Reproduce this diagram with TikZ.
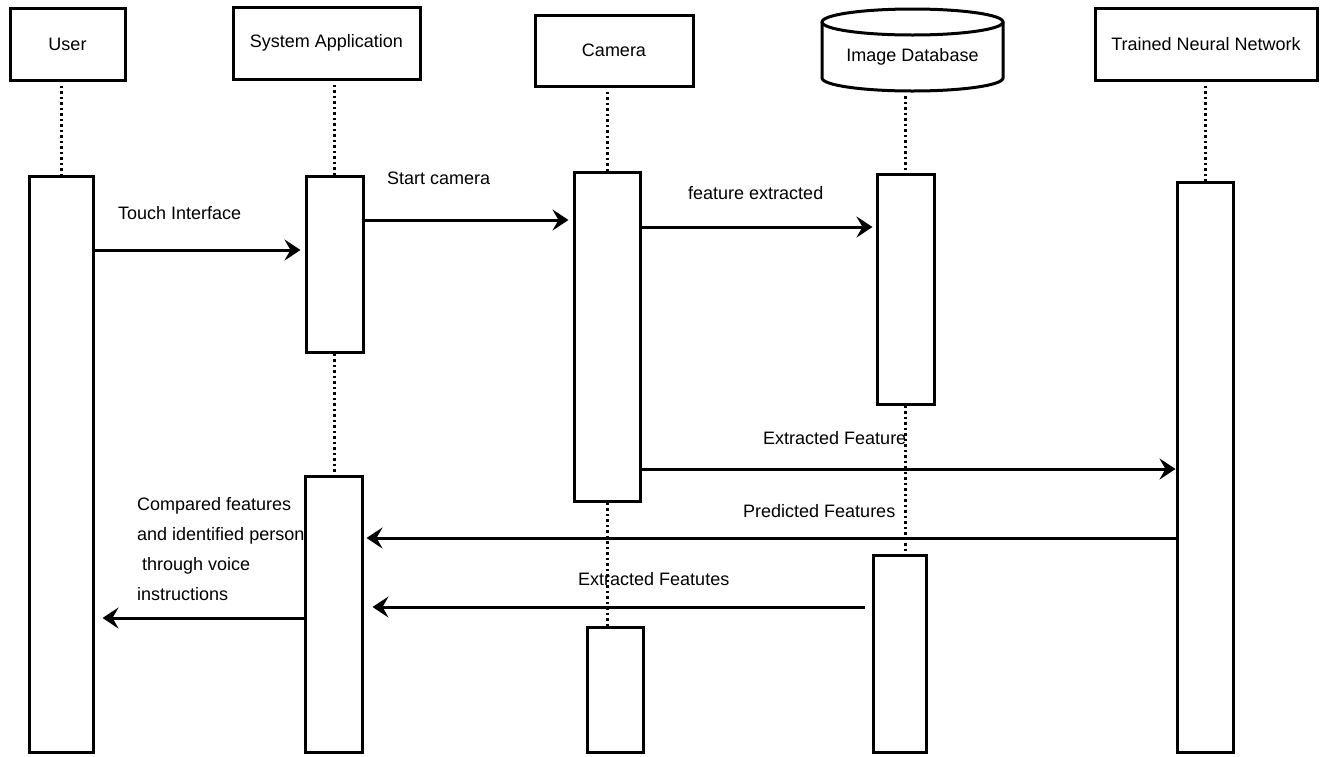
\documentclass[tikz,border=0pt]{standalone}
\usepackage{fontspec}
\setmainfont{Liberation Sans}
\usetikzlibrary{arrows.meta}
\begin{document}
\begin{tikzpicture}[x=1pt,y=-1pt,
  hdr/.style={draw, line width=3pt, fill=white, inner sep=0pt, font=\fontsize{18}{22}\selectfont},
  act/.style={draw, line width=3pt, fill=white, inner sep=0pt},
  life/.style={line width=3pt, dash pattern=on 2.5pt off 3pt},
  msg/.style={line width=3pt, -{Stealth[length=16pt,width=21pt,inset=6pt]}},
  lbl/.style={font=\fontsize{18}{30}\selectfont, inner sep=0pt, anchor=west},
]
\useasboundingbox[fill=white] (0,0) rectangle (1328,756);

% headers
\node[hdr, minimum width=115pt, minimum height=72pt] (hUser) at (67.5,44) {User};
\node[hdr, minimum width=187pt, minimum height=72pt] (hSys) at (326.5,43) {System Application};
\node[hdr, minimum width=158pt, minimum height=71pt] (hCam) at (614,50.5) {Camera};
\node[hdr, minimum width=222pt, minimum height=72pt] (hTNN) at (1206,44) {Trained Neural Network};
% database cylinder
\draw[line width=3pt, fill=white] (822,22) -- (822,78) arc[start angle=180, end angle=360, x radius=90.5pt, y radius=13pt] -- (1003,22);
\draw[line width=3pt] (912.5,22) ellipse [x radius=90.5pt, y radius=13pt];
\node[inner sep=0pt, minimum width=181pt, minimum height=84pt] (hDB) at (912.5,50) {};
\node[inner sep=0pt, font=\fontsize{18}{22}\selectfont] (hDBt) at (912.5,57) {Image Database};

% activations
\node[act, minimum width=64pt, minimum height=576pt] (aUser) at (61,464) {};
\node[act, minimum width=57pt, minimum height=176pt] (aSys1) at (334.5,264) {};
\node[act, minimum width=57pt, minimum height=276pt] (aSys2) at (333.5,614) {};
\node[act, minimum width=66pt, minimum height=329pt] (aCam1) at (607,336.5) {};
\node[act, minimum width=56pt, minimum height=125pt] (aCam2) at (615,689.5) {};
\node[act, minimum width=57pt, minimum height=230pt] (aDB1) at (905.5,289) {};
\node[act, minimum width=53pt, minimum height=197pt] (aDB2) at (899.5,653.5) {};
\node[act, minimum width=56pt, minimum height=570pt] (aTNN) at (1205,467) {};

% lifelines
\draw[life, shorten <=4pt] (hUser.south -| aUser.north) -- (aUser.north);
\draw[life, shorten <=4pt] (hSys.south -| aSys1.north) -- (aSys1.north);
\draw[life] (aSys1.south) -- (aSys1.south |- aSys2.north);
\draw[life, shorten <=4pt] (hCam.south -| aCam1.north) -- (aCam1.north);
\draw[life] (aCam1.south) -- (aCam1.south |- aCam2.north);
\draw[life, shorten <=4pt] (hDB.south -| aDB1.north) -- (aDB1.north);
\draw[life] (aDB1.south) -- (aDB1.south |- aDB2.north);
\draw[life, shorten <=4pt] (hTNN.south -| aTNN.north) -- (aTNN.north);

% messages
\draw[msg, shorten >=4pt] (aUser.east |- 0,250) -- (aSys1.west |- 0,250);
\draw[msg, shorten >=4pt] (aSys1.east |- 0,220) -- (aCam1.west |- 0,220);
\draw[msg, shorten >=3pt] (aCam1.east |- 0,227) -- (aDB1.west |- 0,227);
\draw[msg] (aCam1.east |- 0,469) -- (aTNN.west |- 0,469);
\draw[msg, shorten >=3pt] (aTNN.west |- 0,538) -- (aSys2.east |- 0,538);
\draw[msg, shorten <=7pt, shorten >=9pt] (aDB2.west |- 0,607) -- (aSys2.east |- 0,607);
\draw[msg, shorten >=8pt] (aSys2.west |- 0,618) -- (aUser.east |- 0,618);

% labels
\node[lbl] (tTouch) at (118,213) {Touch Interface};
\node[lbl] (tStart) at (387,178) {Start camera};
\node[lbl] (tFeat) at (688,193) {feature extracted};
\node[lbl] (tExt) at (763,438) {Extracted Feature};
\node[lbl] (tPred) at (743,511) {Predicted Features};
\node[lbl] (tExt2) at (578,579) {Extracted Featutes};
\node[lbl, anchor=north west, align=left] (tComp) at (137,497) {Compared features\\and identified person\\\hspace{5pt}through voice\\instructions};
\end{tikzpicture}
\end{document}
